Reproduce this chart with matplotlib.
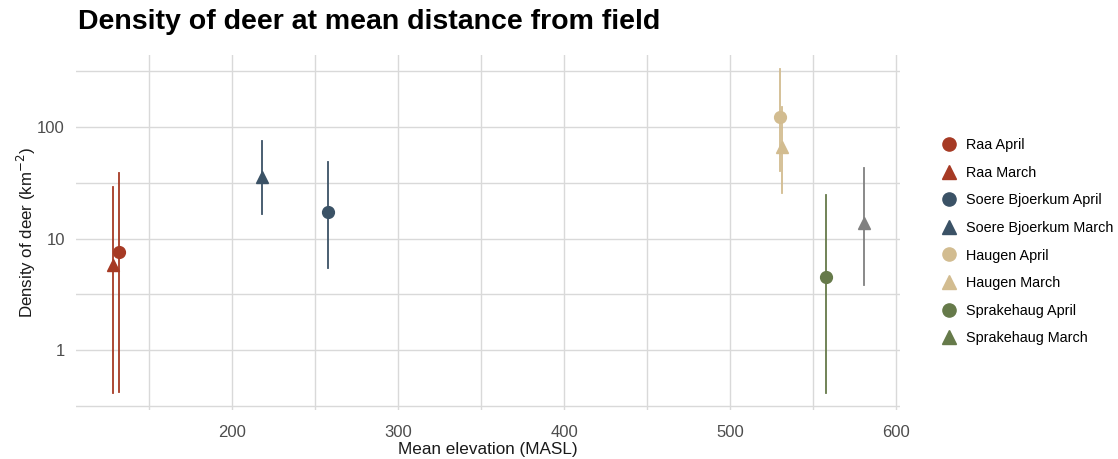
import matplotlib
matplotlib.use("Agg")
import matplotlib.pyplot as plt
from matplotlib.lines import Line2D
import numpy as np

plt.rcParams['font.family'] = ['Liberation Sans', 'DejaVu Sans']

labels = ["Raa April", "Raa March", "Soere Bjoerkum April", "Soere Bjoerkum March",
          "Haugen April", "Haugen March", "Sprakehaug April", "Sprakehaug March"]
elevation = [132, 128.5, 258, 218, 530, 531.5, 558, 581]
density = [7.6, 5.8, 17.3, 35.7, 123, 66, 4.5, 13.8]
lower = [0.42, 0.41, 5.4, 16.6, 40, 25.6, 0.41, 3.8]
upper = [38.7, 29, 48.5, 74.8, 331, 151, 24.6, 42.9]
markers = ["o", "^", "o", "^", "o", "^", "o", "^"]
plot_colors = ["#A63A24", "#A63A24", "#3B5266", "#3B5266",
               "#D2BC90", "#D2BC90", "#667A4A", "#808080"]
legend_colors = ["#A63A24", "#A63A24", "#3B5266", "#3B5266",
                 "#D2BC90", "#D2BC90", "#667A4A", "#667A4A"]

fig = plt.figure(figsize=(11.18, 4.59), dpi=100)
ax = fig.add_axes([76/1118, 1-410/459, (900-76)/1118, (410-55)/459])

for x, y, lo, hi, m, c in zip(elevation, density, lower, upper, markers, plot_colors):
    ax.plot([x, x], [lo, hi], color=c, lw=1.3, zorder=3)
    ax.plot([x], [y], marker=m, color=c, ms=8.5, ls='none', zorder=4)

ax.set_yscale('log')
ax.set_xlim(106, 602.4)
ax.set_ylim(0.29, 442)
ax.set_xticks([200, 300, 400, 500, 600])
ax.set_xticks([150, 250, 350, 450, 550], minor=True)
ax.set_yticks([1, 10, 100])
ax.set_yticklabels(["1", "10", "100"])
ax.set_yticks([10**-0.5, 10**0.5, 10**1.5, 10**2.5], minor=True)
ax.yaxis.set_minor_formatter(plt.NullFormatter())
ax.grid(True, which='both', color='#D9D9D9', lw=1.0, zorder=0)
for s in ax.spines.values():
    s.set_visible(False)
ax.tick_params(which='both', length=0, labelsize=12, labelcolor='#4D4D4D')
ax.tick_params(axis='x', pad=11)
ax.tick_params(axis='y', pad=8)
ax.set_xlabel("Mean elevation (MASL)", fontsize=12.3, color='#1a1a1a', labelpad=1)
ax.set_ylabel(r"Density of deer (km$^{-2}$)", fontsize=12.2, color='#1a1a1a')
ax.yaxis.set_label_coords(-0.046, 0.5)

fig.text(78/1118, 1-22/459, "Density of deer at mean distance from field",
         fontsize=20.5, fontweight='bold', va='center', ha='left')

handles = [Line2D([0], [0], marker=m, color=c, ls='none', ms=9.5)
           for m, c in zip(markers, legend_colors)]
leg = fig.legend(handles, labels, loc='upper left', bbox_to_anchor=(933/1118, 1-131/459),
                 frameon=False, fontsize=10.4, handletextpad=0.55, labelspacing=0.94,
                 borderpad=0, handlelength=1.2)

fig.savefig("out.png", dpi=100)
